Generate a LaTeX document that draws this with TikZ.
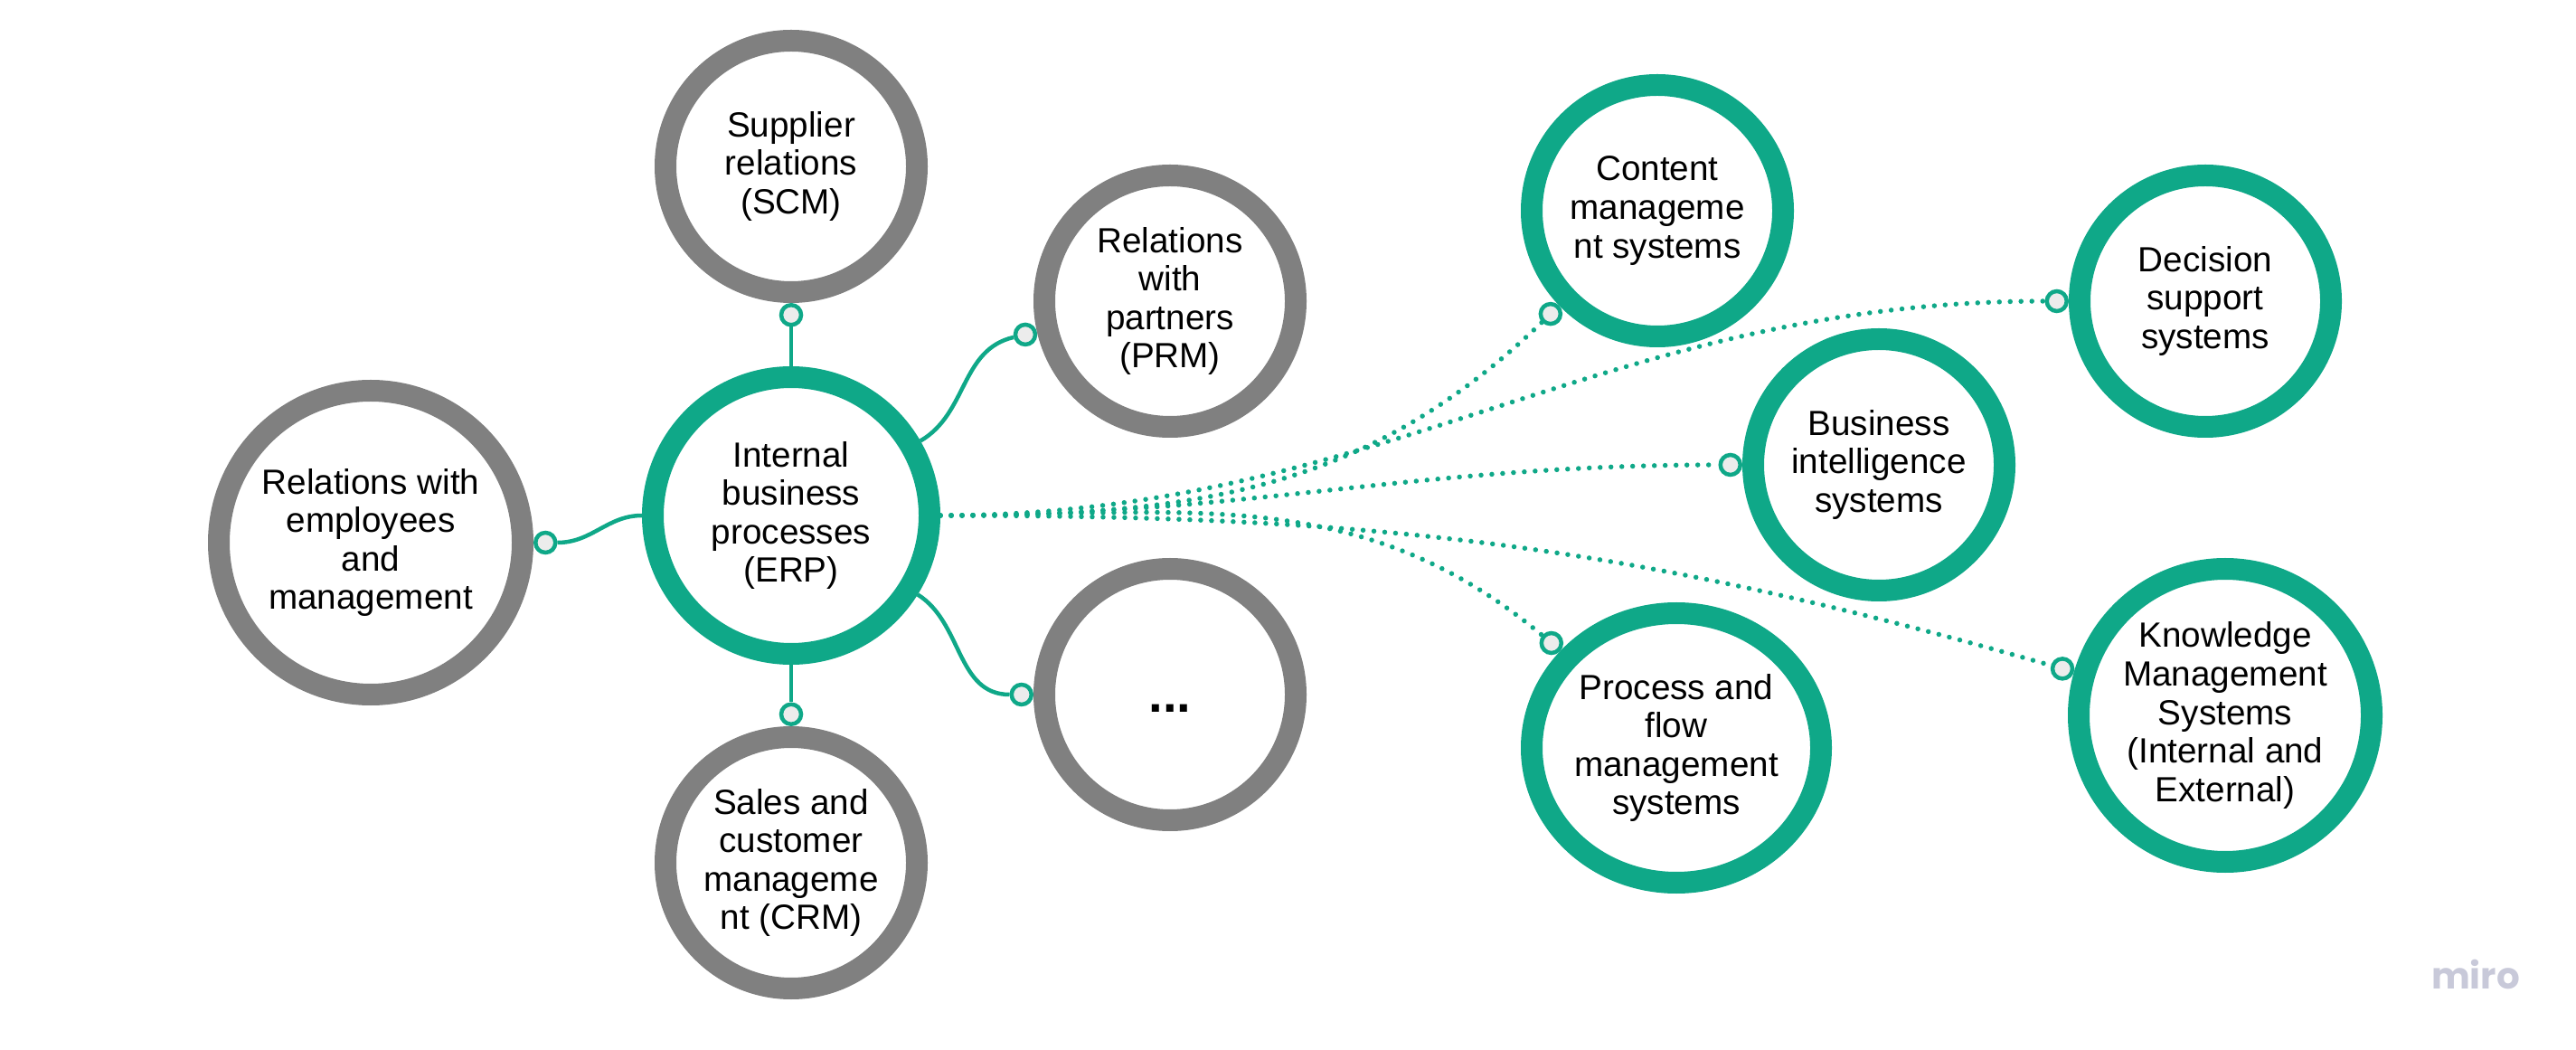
\documentclass[tikz,border=0pt]{standalone}
\usepackage{fontspec}
\setmainfont{Liberation Sans}
\newfontfamily\logofont{Poppins}
\usetikzlibrary{positioning,shapes.geometric}
\definecolor{miroGreen}{HTML}{0FA888}
\definecolor{miroGrey}{HTML}{808080}
\definecolor{markFill}{HTML}{ECECEC}
\definecolor{logoGrey}{HTML}{C8C9D9}
\tikzset{%
  % Specifications for style of nodes:
        base/.style = {circle, line width=0.24cm, fill=white,
                       inner sep=0pt, align=center, text=black,
                       font=\fontsize{11}{12.1}\selectfont},
     primary/.style = {base, draw=miroGreen, minimum size=3.06cm},
      system/.style = {base, draw=miroGreen, minimum size=2.78cm},
    relation/.style = {base, draw=miroGrey, minimum size=2.78cm},
     endmark/.style = {circle, draw=miroGreen, fill=markFill,
                       line width=0.045cm, minimum size=0.22cm,
                       inner sep=0pt},
  % Specifications for style of connectors:
        link/.style = {draw=miroGreen, line width=0.045cm},
     dotlink/.style = {draw=miroGreen, line width=0.055cm, line cap=round,
                       dash pattern=on 0pt off 0.12cm},
}
\begin{document}
\begin{tikzpicture}
\useasboundingbox (0,0) rectangle (28.49,11.60);

\node (ERP)  [primary] at (8.75,5.90)         {Internal\\business\\processes\\(ERP)};

\node (SCM)  [relation, above=0.70cm of ERP]   {Supplier\\relations\\(SCM)};

\node (CRM)  [relation, below=0.68cm of ERP]   {Sales and\\customer\\manageme\\nt (CRM)};

\node (EMP)  [relation, minimum size=3.36cm] at (4.10,5.60) {Relations with\\employees\\and\\management};

\node (PRM)  [relation] at (12.94,8.27)        {Relations\\with\\partners\\(PRM)};

\node (More) [relation] at (12.94,3.92)        {\fontsize{16}{18}\selectfont\bfseries\vphantom{X}...};

\node (CMS)  [system] at (18.33,9.27)          {Content\\manageme\\nt systems};

\node (DSS)  [system] at (24.39,8.27)          {Decision\\support\\systems};

\node (BIS)  [system] at (20.78,6.46)          {Business\\intelligence\\systems};

\node (PFM)  [system, ellipse, minimum width=3.20cm, minimum height=2.98cm] at (18.54,3.33)
             {Process and\\flow\\management\\systems};

\node (KMS)  [system, minimum size=3.24cm] at (24.61,3.69)
             {Knowledge\\Management\\Systems\\(Internal and\\External)};

% end markers
\node (mSCM)  [endmark, below=0pt of SCM] {};
\node (mCRM)  [endmark, above=0pt of CRM] {};
\node (mEMP)  [endmark, right=0pt of EMP] {};
\node (mPRM)  [endmark, anchor=13] at (PRM.193) {};
\node (mMore) [endmark, left=0pt of More] {};
\node (mCMS)  [endmark, anchor=44] at (CMS.224) {};
\node (mDSS)  [endmark, left=0pt of DSS] {};
\node (mBIS)  [endmark, left=0pt of BIS] {};
\node (mPFM)  [endmark, anchor=-40] at (PFM.140) {};
\node (mKMS)  [endmark, anchor=-16] at (KMS.164) {};

\draw[link]    (ERP.north) -- (mSCM);
\draw[link]    (ERP.south) -- (mCRM);
\draw[link]    (ERP.west) to[out=180,in=0] (mEMP);
\draw[link]    (ERP.30) to[out=30,in=193] (mPRM);
\draw[link]    (ERP.-32) to[out=-32,in=180] (mMore);
\draw[dotlink] (ERP.east) to[out=0,in=224] (mCMS);
\draw[dotlink] (ERP.east) to[out=0,in=180] (mDSS);
\draw[dotlink] (ERP.east) to[out=0,in=180] (mBIS);
\draw[dotlink] (ERP.east) to[out=0,in=140] (mPFM);
\draw[dotlink] (ERP.east) to[out=0,in=164] (mKMS);

\node (logo) [anchor=base, text=logoGrey, font=\logofont\bfseries\fontsize{11.5}{13}\selectfont]
      at (27.38,0.67) {miro};
  \end{tikzpicture}
\end{document}
